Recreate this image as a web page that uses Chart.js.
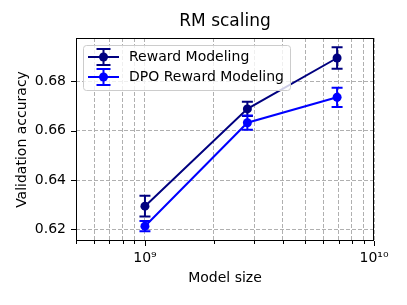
<!DOCTYPE html>
<html><head><meta charset="utf-8">
<script src="https://cdn.jsdelivr.net/npm/chart.js@4"></script>
<style>html,body{margin:0;padding:0;background:#fff}</style>
</head><body>
<canvas id="c" width="407" height="305"></canvas>
<script>
const modelSizes = [1.0e9, 2.8e9, 6.9e9];
const rmAccuracy = [0.6294, 0.6688, 0.6894];
const rmError = [0.0042, 0.0029, 0.0044];
const dpoAccuracy = [0.6213, 0.6632, 0.6735];
const dpoError = [0.0021, 0.0029, 0.0039];
const seriesNames = ['Reward Modeling', 'DPO Reward Modeling'];
const seriesColors = ['#00007f', '#0000ff'];
const xTickValues = [5e8,6e8,7e8,8e8,9e8,1e9,2e9,3e9,4e9,5e9,6e9,7e9,8e9,9e9,1e10];
const xMajorLabels = {1e9: '10⁹', 1e10: '10¹⁰'};
const yTickValues = [0.62, 0.64, 0.66, 0.68];
const chartTitle = 'RM scaling';
const FONT = 'DejaVu Sans';

const errorBarPlugin = {
  id: 'errbars',
  beforeDatasetsDraw(chart) {
    const {ctx, scales: {x, y}} = chart;
    chart.data.datasets.forEach(ds => {
      ctx.save();
      ctx.strokeStyle = ds.borderColor; ctx.lineWidth = 2;
      ds.data.forEach((p, j) => {
        const px = x.getPixelForValue(p.x);
        const y1 = y.getPixelForValue(p.y - ds.errors[j]);
        const y2 = y.getPixelForValue(p.y + ds.errors[j]);
        ctx.beginPath();
        ctx.moveTo(px, y1); ctx.lineTo(px, y2);
        ctx.moveTo(px - 5.5, y1); ctx.lineTo(px + 5.5, y1);
        ctx.moveTo(px - 5.5, y2); ctx.lineTo(px + 5.5, y2);
        ctx.stroke();
      });
      ctx.restore();
    });
  }
};

const framePlugin = {
  id: 'frame',
  afterDraw(chart) {
    const {ctx, chartArea: a, scales: {x, y}} = chart;
    ctx.save();
    // title centred over the plot area
    ctx.fillStyle = '#000'; ctx.font = '17px "' + FONT + '"';
    ctx.textAlign = 'center'; ctx.textBaseline = 'middle';
    ctx.fillText(chartTitle, (a.left + a.right) / 2, 21.5);
    // legend
    const bx = 83, by = 45, bw = 207, bh = 45;
    ctx.beginPath(); ctx.roundRect(bx + 0.5, by + 0.5, bw, bh, 3);
    ctx.fillStyle = 'rgba(255,255,255,0.8)'; ctx.fill();
    ctx.strokeStyle = '#cccccc'; ctx.lineWidth = 1; ctx.stroke();
    chart.data.datasets.forEach((ds, i) => {
      const cy = 57 + i * 20;
      ctx.strokeStyle = ds.borderColor; ctx.fillStyle = ds.borderColor; ctx.lineWidth = 2;
      ctx.beginPath();
      ctx.moveTo(88, cy); ctx.lineTo(119, cy);
      ctx.moveTo(103.5, cy - 8); ctx.lineTo(103.5, cy + 8);
      ctx.moveTo(96.5, cy - 8); ctx.lineTo(110.5, cy - 8);
      ctx.moveTo(96.5, cy + 8); ctx.lineTo(110.5, cy + 8);
      ctx.stroke();
      ctx.beginPath(); ctx.arc(103.5, cy, 4.5, 0, Math.PI * 2); ctx.fill();
      ctx.fillStyle = '#000'; ctx.font = '14px "' + FONT + '"';
      ctx.textBaseline = 'middle'; ctx.textAlign = 'left';
      ctx.fillText(ds.label, 129, cy);
    });
    // frame
    ctx.strokeStyle = '#000'; ctx.lineWidth = 1;
    ctx.strokeRect(Math.round(a.left) + 0.5, Math.round(a.top) + 0.5,
                   Math.round(a.right - a.left) - 1, Math.round(a.bottom - a.top) - 1);
    // ticks
    ctx.beginPath();
    x.ticks.forEach(t => {
      const px = Math.round(x.getPixelForValue(t.value)) + 0.5;
      const len = t.major ? 5 : 3;
      ctx.moveTo(px, a.bottom); ctx.lineTo(px, a.bottom + len);
    });
    y.ticks.forEach(t => {
      const py = Math.round(y.getPixelForValue(t.value)) + 0.5;
      ctx.moveTo(a.left, py); ctx.lineTo(a.left - 5, py);
    });
    ctx.stroke();
    ctx.restore();
  }
};

const mk = (vals) => modelSizes.map((m, i) => ({x: m, y: vals[i]}));

new Chart(document.getElementById('c'), {
  type: 'line',
  data: {
    datasets: [
      {label: seriesNames[0], data: mk(rmAccuracy), errors: rmError, borderColor: seriesColors[0],
       backgroundColor: seriesColors[0], pointBackgroundColor: seriesColors[0], borderWidth: 2,
       pointRadius: 4.5, pointBorderWidth: 0, order: 2},
      {label: seriesNames[1], data: mk(dpoAccuracy), errors: dpoError, borderColor: seriesColors[1],
       backgroundColor: seriesColors[1], pointBackgroundColor: seriesColors[1], borderWidth: 2,
       pointRadius: 4.5, pointBorderWidth: 0, order: 1}
    ]
  },
  options: {
    responsive: false, animation: false,
    layout: {padding: {left: 0, right: 33, top: 38, bottom: 0}},
    plugins: {
      legend: {display: false},
      tooltip: {enabled: false},
      title: {display: false}
    },
    scales: {
      x: {
        type: 'logarithmic', min: 5e8, max: 1e10,
        afterBuildTicks: s => { s.ticks = xTickValues.map(v => ({value: v, major: v in xMajorLabels})); },
        afterFit: s => { s.height = 64; },
        ticks: {autoSkip: false, maxRotation: 0, padding: 9, color: '#000',
                font: {family: FONT, size: 14},
                callback: v => xMajorLabels[v] || ''},
        grid: {color: '#b0b0b0', lineWidth: 1, drawTicks: false},
        border: {display: false, dash: [4, 2]},
        title: {display: true, text: 'Model size', color: '#000',
                font: {family: FONT, size: 14}, padding: {top: 0, bottom: 18.6}}
      },
      y: {
        type: 'linear', min: 0.6153, max: 0.6975,
        afterBuildTicks: s => { s.ticks = yTickValues.map(v => ({value: v})); },
        afterFit: s => { s.width = 76; },
        ticks: {padding: 10, color: '#000', font: {family: FONT, size: 14},
                callback: v => v.toFixed(2)},
        grid: {color: '#b0b0b0', lineWidth: 1, drawTicks: false},
        border: {display: false, dash: [4, 2]},
        title: {display: true, text: 'Validation accuracy', color: '#000',
                font: {family: FONT, size: 14}, padding: {top: 13.6, bottom: 0}}
      }
    }
  },
  plugins: [errorBarPlugin, framePlugin]
});
</script>
</body></html>
